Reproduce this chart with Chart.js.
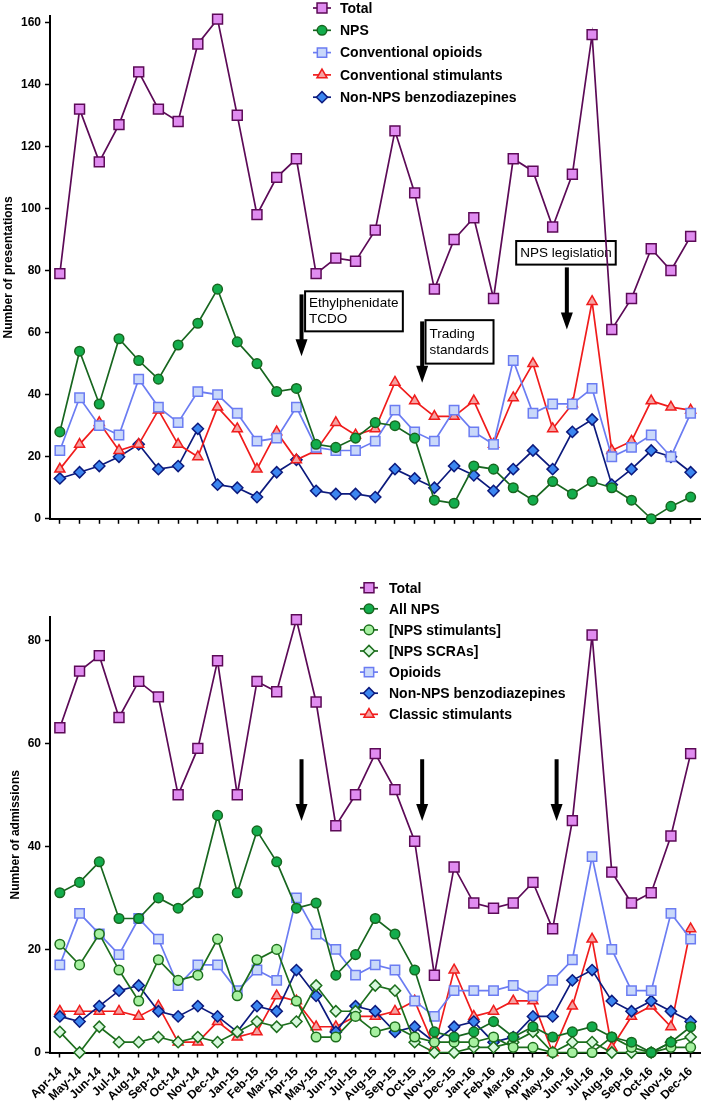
<!DOCTYPE html>
<html>
<head>
<meta charset="utf-8">
<script src="https://cdn.jsdelivr.net/npm/chart.js@4.4.1/dist/chart.umd.min.js"></script>
<style>
  html, body { margin: 0; padding: 0; background: #fff; }
  #wrap { position: relative; width: 709px; height: 1101px; }
  #presChart { position: absolute; left: 0; top: 0; }
  #admChart { position: absolute; left: 0; top: 540px; }
</style>
</head>
<body>
<div id="wrap">
  <canvas id="presChart" width="709" height="530" style="width:709px;height:530px"></canvas>
  <canvas id="admChart" width="709" height="561" style="width:709px;height:561px"></canvas>
</div>
<script>
const months = ['Apr-14','May-14','Jun-14','Jul-14','Aug-14','Sep-14','Oct-14','Nov-14','Dec-14',
  'Jan-15','Feb-15','Mar-15','Apr-15','May-15','Jun-15','Jul-15','Aug-15','Sep-15','Oct-15','Nov-15','Dec-15',
  'Jan-16','Feb-16','Mar-16','Apr-16','May-16','Jun-16','Jul-16','Aug-16','Sep-16','Oct-16','Nov-16','Dec-16'];

// presentations (top panel)
const presTotal   = [79,132,115,127,144,132,128,153,161,130,98,110,116,79,84,83,93,125,105,74,90,97,71,116,112,94,111,156,61,71,87,80,91];
const presNPS     = [28,54,37,58,51,45,56,63,74,57,50,41,42,24,23,26,31,30,26,6,5,17,16,10,6,12,8,12,10,6,0,4,7];
const presOpioids = [22,39,30,27,45,36,31,41,40,34,25,26,36,23,22,22,25,35,28,25,35,28,24,51,34,37,37,42,20,23,27,20,34];
const presStim    = [16,24,31,22,24,35,24,20,36,29,16,28,19,22,31,27,29,44,38,33,33,38,24,39,50,29,37,70,22,25,38,36,35];
const presBenzo   = [13,15,17,20,24,16,17,29,11,10,7,15,19,9,8,8,7,16,13,10,17,14,9,16,22,16,28,32,11,16,22,20,15];

// admissions (bottom panel)
const admTotal    = [63,74,77,65,72,69,50,59,76,50,72,70,84,68,44,50,58,51,41,15,36,29,28,29,33,24,45,81,35,29,31,42,58];
const admNPS      = [31,33,37,26,26,30,28,31,46,31,43,37,28,29,15,19,26,23,16,4,3,4,6,3,5,3,4,5,3,2,0,2,5];
const admNPSStim  = [21,17,23,16,10,18,14,15,22,11,18,20,10,3,3,7,4,5,3,2,2,2,3,1,1,0,0,0,3,1,0,1,1];
const admSCRA     = [4,0,5,2,2,3,2,3,2,4,6,5,6,13,8,8,13,12,2,0,0,1,1,2,4,0,2,2,0,0,0,2,3];
const admOpioids  = [17,27,23,19,26,22,13,17,17,12,16,14,30,23,20,15,17,16,10,7,12,12,12,13,11,14,18,38,20,12,12,27,22];
const admBenzo    = [7,6,9,12,13,8,7,9,7,4,9,8,16,11,4,9,8,4,5,2,5,6,2,3,7,7,14,16,10,8,10,8,6];
const admStim     = [8,8,8,8,7,9,2,2,6,3,4,11,10,5,5,7,7,8,10,1,16,7,8,10,10,0,9,22,1,7,9,5,24];

const FONT = '"Liberation Sans", Arial, sans-serif';
Chart.defaults.font.family = FONT;
Chart.defaults.color = '#000';

function mk(label, data, line, fill, shape, r) {
  return {
    label: label, data: data,
    borderColor: line, backgroundColor: fill,
    pointBackgroundColor: fill, pointBorderColor: line,
    pointStyle: shape, pointRadius: r, pointBorderWidth: 1.5,
    borderWidth: 1.7, tension: 0, clip: false
  };
}

// legend drawn inside the plot area
const inLegend = {
  id: 'inLegend',
  afterDraw(chart, args, o) {
    const ctx = chart.ctx;
    ctx.save();
    chart.data.datasets.forEach((ds, i) => {
      const y = o.y + i * o.rowH;
      ctx.strokeStyle = ds.borderColor;
      ctx.lineWidth = ds.borderWidth;
      ctx.beginPath();
      ctx.moveTo(o.x - 9, y);
      ctx.lineTo(o.x + 9, y);
      ctx.stroke();
      ctx.fillStyle = ds.pointBackgroundColor;
      ctx.strokeStyle = ds.pointBorderColor;
      ctx.lineWidth = ds.pointBorderWidth;
      Chart.helpers.drawPoint(ctx, {pointStyle: ds.pointStyle, radius: ds.pointRadius, borderWidth: ds.pointBorderWidth, rotation: 0}, o.x, y);
      ctx.fillStyle = '#000';
      ctx.font = 'bold 14px ' + FONT;
      ctx.textBaseline = 'middle';
      ctx.textAlign = 'left';
      ctx.fillText(ds.label, o.textX, y + 1);
    });
    ctx.restore();
  }
};

// arrows and text boxes, placed on the chart scales
const notes = {
  id: 'notes',
  beforeDatasetsDraw(chart, args, o) {
    const {ctx, scales: {x, y}} = chart;
    ctx.save();
    ctx.fillStyle = '#000';
    (o.arrows || []).forEach(a => {
      const px = x.getPixelForValue(a.x);
      const y0 = y.getPixelForValue(a.from);
      const y1 = y.getPixelForValue(a.to);
      ctx.fillRect(px - 2, y0, 4, y1 - y0 - 15);
      ctx.beginPath();
      ctx.moveTo(px - 6, y1 - 17);
      ctx.lineTo(px + 6, y1 - 17);
      ctx.lineTo(px, y1);
      ctx.closePath();
      ctx.fill();
    });
    (o.boxes || []).forEach(b => {
      const l = x.getPixelForValue(b.x0), r = x.getPixelForValue(b.x1);
      const t = y.getPixelForValue(b.top), bt = y.getPixelForValue(b.bottom);
      ctx.fillStyle = '#fff';
      ctx.fillRect(l, t, r - l, bt - t);
      ctx.strokeStyle = '#000';
      ctx.lineWidth = 2;
      ctx.strokeRect(l, t, r - l, bt - t);
      ctx.fillStyle = '#000';
      ctx.font = '13.5px ' + FONT;
      ctx.textBaseline = 'middle';
      ctx.textAlign = 'left';
      const lh = 16;
      const mid = (t + bt) / 2;
      b.lines.forEach((s, k) => {
        ctx.fillText(s, l + 4, mid + (k - (b.lines.length - 1) / 2) * lh);
      });
    });
    ctx.restore();
  }
};

function options(yMax, yTitle, titlePad, showLabels, padTop, xHeight, legend, noteOpts) {
  return {
    responsive: false,
    animation: false,
    events: [],
    layout: { padding: { top: padTop, right: 5.5, left: 0, bottom: 0 } },
    plugins: {
      legend: { display: false },
      tooltip: { enabled: false },
      inLegend: legend,
      notes: noteOpts
    },
    scales: {
      x: {
        offset: true,
        grid: { drawOnChartArea: false, drawTicks: true, tickLength: 5, tickWidth: 1.5, tickColor: '#000', color: '#000' },
        border: { display: true, color: '#000', width: 2 },
        ticks: {
          display: showLabels, autoSkip: false, maxRotation: 45, minRotation: 45, padding: 7,
          font: { size: 12, weight: 'bold' }, color: '#000'
        },
        afterFit(s) { s.height = xHeight; }
      },
      y: {
        min: 0, max: yMax,
        grid: { drawOnChartArea: false, drawTicks: true, tickLength: 5, tickWidth: 1.5, tickColor: '#000', color: '#000' },
        border: { display: true, color: '#000', width: 2 },
        ticks: { stepSize: 20, includeBounds: false, padding: 4, font: { size: 12, weight: 'bold' }, color: '#000' },
        title: { display: true, text: yTitle, font: { size: 12, weight: 'bold' }, color: '#000', padding: { top: titlePad, bottom: 0 } },
        afterFit(s) { s.width = 50; }
      }
    }
  };
}

new Chart(document.getElementById('presChart'), {
  type: 'line',
  data: {
    labels: months,
    datasets: [
      mk('Total', presTotal, '#5c0a57', '#e08cf0', 'rect', 7),
      mk('NPS', presNPS, '#17661f', '#13ad4d', 'circle', 4.8),
      mk('Conventional opioids', presOpioids, '#6b7cf2', '#c9d8fa', 'rect', 6.6),
      mk('Conventional stimulants', presStim, '#f01c1c', '#f5a2a2', 'triangle', 5.8),
      mk('Non-NPS benzodiazepines', presBenzo, '#0c1a7d', '#3c86f0', 'rectRot', 5.6)
    ]
  },
  options: options(162, 'Number of presentations', 1, false, 16, 11,
    { x: 322, y: 8, rowH: 22.3, textX: 340 },
    {
      arrows: [ { x: 12.26, from: 72.3, to: 52.4 }, { x: 18.38, from: 63.6, to: 43.8 }, { x: 25.72, from: 81, to: 61 } ],
      boxes: [
        { x0: 12.44, x1: 17.4, top: 73.3, bottom: 60.4, lines: ['Ethylphenidate', 'TCDO'] },
        { x0: 18.55, x1: 22.0, top: 64, bottom: 50, lines: ['Trading', 'standards'] },
        { x0: 23.15, x1: 28.2, top: 89.5, bottom: 81.9, lines: ['NPS legislation'] }
      ]
    }),
  plugins: [inLegend, notes]
});

new Chart(document.getElementById('admChart'), {
  type: 'line',
  data: {
    labels: months,
    datasets: [
      mk('Total', admTotal, '#5c0a57', '#e08cf0', 'rect', 7),
      mk('All NPS', admNPS, '#17661f', '#13ad4d', 'circle', 4.8),
      mk('[NPS stimulants]', admNPSStim, '#1c6e1c', '#a6f0a0', 'circle', 4.8),
      mk('[NPS SCRAs]', admSCRA, '#1c6e1c', '#d8f8de', 'rectRot', 5.6),
      mk('Opioids', admOpioids, '#6b7cf2', '#c9d8fa', 'rect', 6.6),
      mk('Non-NPS benzodiazepines', admBenzo, '#0c1a7d', '#3c86f0', 'rectRot', 5.6),
      mk('Classic stimulants', admStim, '#f01c1c', '#f5a2a2', 'triangle', 5.8)
    ]
  },
  options: options(84.5, 'Number of admissions', 8, true, 77, 48.5,
    { x: 369, y: 47.7, rowH: 21.1, textX: 389 },
    {
      arrows: [ { x: 12.26, from: 56.9, to: 44.9 }, { x: 18.38, from: 56.9, to: 44.9 }, { x: 25.2, from: 56.9, to: 44.9 } ]
    }),
  plugins: [inLegend, notes]
});
</script>
</body>
</html>
